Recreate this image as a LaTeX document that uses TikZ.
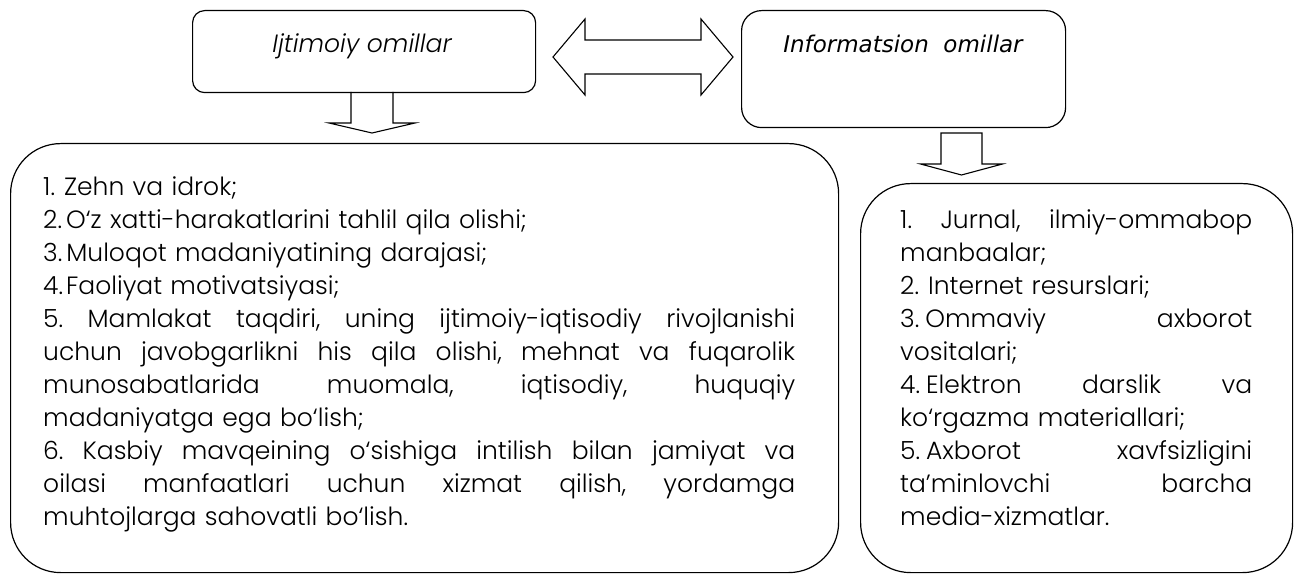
\documentclass[tikz,border=0pt]{standalone}
\usepackage{fontspec}
\usetikzlibrary{calc}
\IfFontExistsTF{Poppins Light}{\newfontfamily\bodyf{Poppins Light}}{\newfontfamily\bodyf{Poppins}}
\IfFontExistsTF{Poppins Light Italic}{\newfontfamily\titf{Poppins Light Italic}}{\newfontfamily\titf{Poppins}[UprightFont=*-Italic]}
\newfontfamily\verdf{DejaVu Sans}
\newcommand{\jl}[2]{\leavevmode\hbox to #1{#2}}
\newcommand{\g}{\hfill\ }
\tikzset{
  box/.style={draw, line width=1.2pt, inner sep=0pt},
  blk/.style={draw, line width=1.1pt, line join=miter},
  bodytext/.style={inner sep=0pt, align=left, font=\bodyf\fontsize{25}{33}\selectfont},
}
\begin{document}
\begin{tikzpicture}[x=1pt,y=-1pt]
\useasboundingbox (0,0) rectangle (1294,575);
% top boxes
\node[box, rounded corners=12pt, minimum width=343pt, minimum height=82pt, anchor=north west] (ijt) at (192,10) {};
\node[anchor=base, inner sep=0pt, font=\titf\fontsize{25}{30}\selectfont] (ijtT) at (362,53) {Ijtimoiy omillar};
\node[box, rounded corners=20pt, minimum width=324pt, minimum height=117pt, anchor=north west] (inf) at (741,10) {};
\node[anchor=base, inner sep=0pt, font=\verdf\itshape\fontsize{23}{28}\selectfont] (infT) at (903,53) {Informatsion\ \ omillar};
% big boxes
\node[box, rounded corners=50pt, minimum width=828pt, minimum height=429pt, anchor=north west] (soc) at (10,143) {};
\node[box, rounded corners=50pt, minimum width=432pt, minimum height=389pt, anchor=north west] (res) at (860,183) {};
% texts
\node[bodytext, text width=752pt, anchor=north west] (socT) at (43,176.5) {%
1.\hspace{9pt}Zehn va idrok;\\
2.\hspace{4pt}O‘z xatti-harakatlarini tahlil qila olishi;\\
3.\hspace{4pt}Muloqot madaniyatining darajasi;\\
4.\hspace{3pt}Faoliyat motivatsiyasi;\\
\jl{752pt}{5.\g Mamlakat\g taqdiri,\g uning\g ijtimoiy-iqtisodiy\g rivojlanishi}\\
\jl{752pt}{uchun\g javobgarlikni\g his\g qila\g olishi,\g mehnat\g va\g fuqarolik}\\
\jl{752pt}{munosabatlarida\g muomala,\g iqtisodiy,\g huquqiy}\\
madaniyatga ega bo‘lish;\\
\jl{752pt}{6.\g Kasbiy\g mavqeining\g o‘sishiga\g intilish\g bilan\g jamiyat\g va}\\
\jl{752pt}{oilasi\g manfaatlari\g uchun\g xizmat\g qilish,\g yordamga}\\
muhtojlarga sahovatli bo‘lish.};
\node[bodytext, text width=352pt, anchor=north west] (resT) at (900,209.5) {%
\jl{352pt}{1.\g Jurnal,\g ilmiy-ommabop}\\
manbaalar;\\
2.\hspace{9pt}Internet resurslari;\\
\jl{352pt}{3.\hspace{6pt}Ommaviy\g axborot}\\
vositalari;\\
\jl{352pt}{4.\hspace{6pt}Elektron\g darslik\g va}\\
ko‘rgazma materiallari;\\
\jl{352pt}{5.\hspace{6pt}Axborot\g xavfsizligini}\\
\jl{352pt}{ta’minlovchi\g barcha}\\
media-xizmatlar.};
% double arrow between the top boxes
\coordinate (dA) at (553,57);
\coordinate (dB) at (733,57);
\draw[blk] (dA) -- ($(dA)+(32,-38)$) -- ($(dA)+(32,-17)$) -- ($(dB)+(-32,-17)$) -- ($(dB)+(-32,-38)$) -- (dB)
  -- ($(dB)+(-32,38)$) -- ($(dB)+(-32,17)$) -- ($(dA)+(32,17)$) -- ($(dA)+(32,38)$) -- cycle;
% down arrow from ijt to soc
\coordinate (a1) at (372,92);
\draw[blk] ($(a1)+(-21,0)$) -- ($(a1)+(-21,31)$) -- ($(a1)+(-43,31)$) -- ($(a1)+(0,41)$) -- ($(a1)+(43,31)$) -- ($(a1)+(21,31)$) -- ($(a1)+(21,0)$);
% down arrow from inf to res
\coordinate (a2) at (961.5,133);
\draw[blk] ($(a2)+(-20.5,0)$) -- ($(a2)+(-20.5,31)$) -- ($(a2)+(-41,31)$) -- ($(a2)+(0,42)$) -- ($(a2)+(41,31)$) -- ($(a2)+(20.5,31)$) -- ($(a2)+(20.5,0)$) -- cycle;
\end{tikzpicture}
\end{document}
